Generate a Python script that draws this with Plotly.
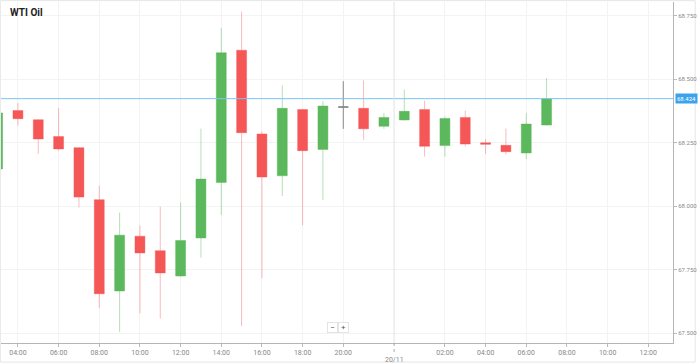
import plotly.graph_objects as go

# ---- data (hourly candles, WTI Oil) ----
times = [
    "2024-11-19 03:00", "2024-11-19 04:00", "2024-11-19 05:00", "2024-11-19 06:00",
    "2024-11-19 07:00", "2024-11-19 08:00", "2024-11-19 09:00", "2024-11-19 10:00",
    "2024-11-19 11:00", "2024-11-19 12:00", "2024-11-19 13:00", "2024-11-19 14:00",
    "2024-11-19 15:00", "2024-11-19 16:00", "2024-11-19 17:00", "2024-11-19 18:00",
    "2024-11-19 19:00", "2024-11-19 20:00", "2024-11-19 21:00", "2024-11-19 23:00",
    "2024-11-20 00:00", "2024-11-20 01:00", "2024-11-20 02:00", "2024-11-20 03:00",
    "2024-11-20 04:00", "2024-11-20 05:00", "2024-11-20 06:00", "2024-11-20 07:00",
]
opens = [68.147, 68.377, 68.341, 68.275, 68.231, 68.026, 67.666, 67.882,
         67.825, 67.725, 67.875, 68.094, 68.615, 68.285, 68.120, 68.381,
         68.224, 68.391, 68.386, 68.315, 68.340, 68.381, 68.239, 68.350,
         68.250, 68.240, 68.210, 68.320]
highs = [68.373, 68.407, 68.343, 68.387, 68.233, 68.081, 67.975, 67.924,
         67.998, 68.015, 68.306, 68.703, 68.767, 68.295, 68.476, 68.383,
         68.414, 68.493, 68.496, 68.368, 68.460, 68.416, 68.354, 68.377,
         68.265, 68.306, 68.368, 68.506]
lows = [68.140, 68.318, 68.207, 68.219, 67.995, 67.600, 67.505, 67.578,
        67.557, 67.722, 67.797, 67.966, 67.528, 67.716, 68.041, 67.925,
        68.025, 68.305, 68.262, 68.305, 68.338, 68.196, 68.196, 68.236,
        68.207, 68.204, 68.186, 68.318]
closes = [68.368, 68.345, 68.265, 68.226, 68.036, 67.655, 67.886, 67.816,
          67.737, 67.865, 68.107, 68.605, 68.290, 68.115, 68.386, 68.219,
          68.395, 68.391, 68.305, 68.350, 68.374, 68.236, 68.346, 68.245,
          68.244, 68.215, 68.324, 68.424]

current_price = 68.424

x_tick_vals = ["2024-11-19 04:00", "2024-11-19 06:00", "2024-11-19 08:00", "2024-11-19 10:00",
               "2024-11-19 12:00", "2024-11-19 14:00", "2024-11-19 16:00", "2024-11-19 18:00",
               "2024-11-19 20:00", "2024-11-20 02:00", "2024-11-20 04:00", "2024-11-20 06:00",
               "2024-11-20 08:00", "2024-11-20 10:00", "2024-11-20 12:00"]
x_tick_text = ["04:00", "06:00", "08:00", "10:00", "12:00", "14:00", "16:00", "18:00",
               "20:00", "02:00", "04:00", "06:00", "08:00", "10:00", "12:00"]
day_marker = "2024-11-19 23:30"
day_label = "20/11"

y_tick_vals = [67.5, 67.75, 68.0, 68.25, 68.5, 68.75]
y_tick_text = ["67.500", "67.750", "68.000", "68.250", "68.500", "68.750"]

# ---- split regular candles and dojis ----
reg = [i for i in range(len(times)) if opens[i] != closes[i]]
doji = [i for i in range(len(times)) if opens[i] == closes[i]]

RED = "#f55656"
GREEN = "#5cb85c"

fig = go.Figure()
fig.add_trace(go.Candlestick(
    x=[times[i] for i in reg],
    open=[opens[i] for i in reg],
    high=[highs[i] for i in reg],
    low=[lows[i] for i in reg],
    close=[closes[i] for i in reg],
    increasing=dict(fillcolor=GREEN, line=dict(color="rgba(92,184,92,0.45)", width=1)),
    decreasing=dict(fillcolor=RED, line=dict(color="rgba(245,86,86,0.4)", width=1)),
    whiskerwidth=0,
    showlegend=False,
))
fig.add_trace(go.Candlestick(
    x=[times[i] for i in doji],
    open=[opens[i] for i in doji],
    high=[highs[i] for i in doji],
    low=[lows[i] for i in doji],
    close=[closes[i] for i in doji],
    increasing=dict(fillcolor="#888888", line=dict(color="#888888", width=1)),
    decreasing=dict(fillcolor="#888888", line=dict(color="#888888", width=1)),
    whiskerwidth=0,
    showlegend=False,
))

# current price line
fig.add_hline(y=current_price, line=dict(color="#7cc4f4", width=1))
fig.add_annotation(
    x=1, xref="paper", y=current_price, yref="y", xanchor="left", xshift=2,
    text=f"{current_price:.3f}", showarrow=False,
    font=dict(size=6, color="white", family="Roboto"),
    bgcolor="#3ba3ec", borderpad=1,
)

# day separator
fig.add_shape(type="line", x0=day_marker, x1=day_marker, xref="x",
              y0=0, y1=1, yref="paper", line=dict(color="#e2e2e2", width=1))
fig.add_shape(type="line", x0=day_marker, x1=day_marker, xref="x",
              y0=0, y1=-0.03, yref="paper", line=dict(color="#aaaaaa", width=1, dash="dot"))
fig.add_annotation(x=day_marker, xref="x", y=0, yref="paper", yshift=-11,
                   yanchor="top", text=day_label, showarrow=False,
                   font=dict(size=7, color="#888888", family="Roboto"))

# zoom buttons
for xp, t in [(0.493, "−"), (0.510, "+")]:
    fig.add_annotation(x=xp, xref="paper", y=0.03, yref="paper", text=t,
                       showarrow=False, font=dict(size=8, color="#555555"),
                       bgcolor="white", bordercolor="#e4e4e4", borderwidth=1, borderpad=0,
                       width=9, height=9)

# outer border
fig.add_shape(type="rect", xref="paper", yref="paper", x0=-0.001, x1=1.033, y0=-0.056, y1=1.004,
              line=dict(color="#e6e6e6", width=1), layer="below")

fig.update_layout(
    width=698, height=363,
    margin=dict(l=1, r=23, t=2, b=20),
    paper_bgcolor="white", plot_bgcolor="white",
    title=dict(text="<b>WTI Oil</b>", x=10 / 698, xanchor="left", y=1 - 12 / 363,
               yanchor="middle", font=dict(size=10, color="#222222", family="Roboto")),
    font=dict(family="Roboto", size=7, color="#888888"),
    xaxis=dict(
        type="date",
        rangebreaks=[dict(bounds=[22, 23], pattern="hour")],
        range=["2024-11-19 03:10", "2024-11-20 13:13"],
        rangeslider=dict(visible=False),
        tickvals=x_tick_vals, ticktext=x_tick_text,
        showgrid=True, gridcolor="#f3f3f3", gridwidth=1,
        ticks="outside", ticklen=3, tickcolor="#bbbbbb",
        showline=True, linecolor="#b5b5b5", linewidth=1, mirror=False,
        tickfont=dict(size=7, color="#888888"),
        zeroline=False, fixedrange=True,
    ),
    yaxis=dict(
        side="right",
        range=[67.461, 68.805],
        tickvals=y_tick_vals, ticktext=y_tick_text,
        showgrid=True, gridcolor="#f3f3f3", gridwidth=1,
        ticks="outside", ticklen=3, tickcolor="#bbbbbb",
        showline=True, linecolor="#b5b5b5", linewidth=1, mirror=False,
        tickfont=dict(size=6, color="#888888"),
        zeroline=False, fixedrange=True,
    ),
)

fig.write_html("out.html", config={"displayModeBar": False},
               post_script="document.body.style.margin='0';")
